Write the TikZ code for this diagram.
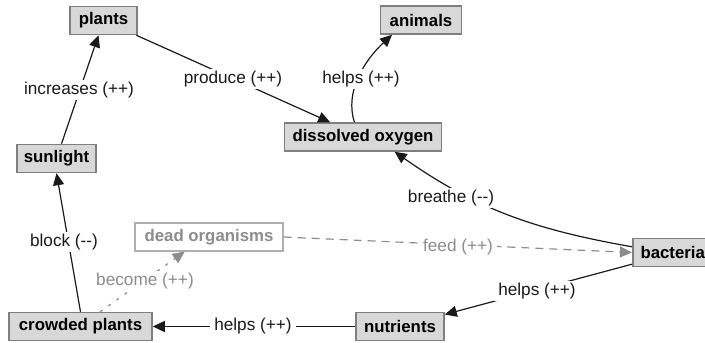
\documentclass[tikz,border=0pt]{standalone}
\usepackage{fontspec}
\setmainfont{Liberation Sans}
\usetikzlibrary{arrows.meta}

\definecolor{boxfill}{HTML}{D8D8D8}
\definecolor{boxline}{HTML}{7F7F7F}
\definecolor{faded}{HTML}{8C8C8C}
\definecolor{ink}{HTML}{1A1A1A}

\begin{document}
\begin{tikzpicture}[x=1pt,y=-1pt,
  concept/.style={draw=boxline, line width=1.5pt, fill=boxfill,
    font=\fontsize{16.8}{18}\selectfont\bfseries, minimum height=28pt, inner sep=0pt},
  ghost/.style={draw=faded!70, line width=1.2pt, fill=white, text=faded,
    font=\fontsize{16.8}{18}\selectfont\bfseries, minimum height=28pt, inner sep=0pt},
  link/.style={draw=ink, line width=1.2pt, -{Triangle[length=12pt,width=11pt]}},
  fadedlink/.style={draw=faded, line width=1.2pt, dash pattern=on 8pt off 6pt,
    -{Triangle[length=12pt,width=11pt]}},
  lab/.style={fill=white, inner xsep=4pt, inner ysep=2pt, text=ink,
    font=\fontsize{17.2}{18}\selectfont},
  fadedlab/.style={lab, text=faded},
]
\useasboundingbox (0,0) rectangle (705,343);
\clip (0,0) rectangle (705,343);

% concept boxes
\node[concept, minimum width=67pt]  (plants)  at (103.5,20.5) {plants};
\node[concept, minimum width=81pt]  (animals) at (421,20)     {animals};
\node[concept, minimum width=157pt] (oxygen)  at (363,137)    {dissolved oxygen};
\node[concept, minimum width=79pt]  (sun)     at (56.5,158.5) {sunlight};
\node[ghost,   minimum width=148pt] (dead)    at (209,237)    {dead organisms};
\node[concept, minimum width=143pt] (crowd)   at (80.5,326.5) {crowded plants};
\node[concept, minimum width=88pt]  (nut)     at (400,326.5)  {nutrients};
\node[concept, minimum width=80pt, anchor=west] (bact) at (632,252.5) {bacteria};

% connectors
\draw[link] (sun) -- (plants);
\draw[link] (plants) -- (oxygen);
\draw[link] (oxygen.120) .. controls +(-10,-30) and +(-28,26) .. (animals.-153);
\draw[link] (bact.172) to[out=170, in=-35] (oxygen.-25);
\draw[fadedlink] (dead.east) -- (bact.west);
\draw[link] (bact.196) -- (nut.15);
\draw[link] (nut) -- (crowd);
\draw[link] (crowd.north) -- (sun.south);
\draw[fadedlink, dash pattern=on 3pt off 7pt] (crowd.37) -- (dead.-149);

% connector labels
\node[lab]      (incr)    at (79,90)   {increases (++)};
\node[lab]      (prod)    at (233,79)  {produce (++)};
\node[lab]      (helpA)   at (361,79)  {helps (++)};
\node[lab]      (breathe) at (451,198) {breathe (-{}-)};
\node[fadedlab] (feed)    at (458,247) {feed (++)};
\node[lab]      (helpB)   at (537,291) {helps (++)};
\node[lab]      (block)   at (64,242)  {block (-{}-)};
\node[fadedlab] (become)  at (145,281) {become (++)};
\node[lab]      (helpC)   at (253,326) {helps (++)};
\end{tikzpicture}
\end{document}
